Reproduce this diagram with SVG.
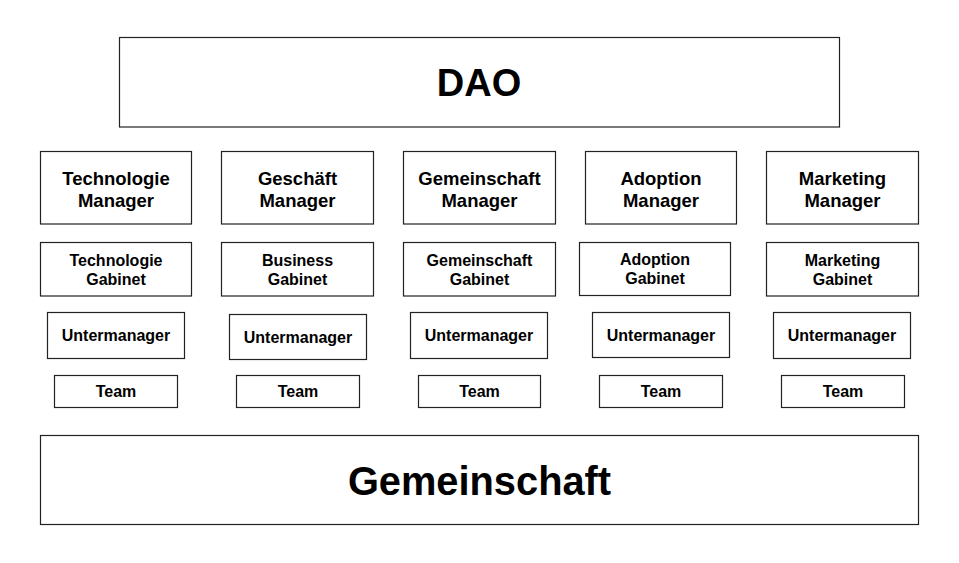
<svg xmlns="http://www.w3.org/2000/svg" width="959" height="563" viewBox="0 0 959 563">
<style>
rect{fill:#fff;stroke:#222;stroke-width:1.2}
text{font-family:"Liberation Sans",Arial,sans-serif;font-weight:bold;fill:#000;text-anchor:middle}
.xl{font-size:38px}
.m{font-size:18.5px}
.s{font-size:16px}
</style>
<rect x="0" y="0" width="959" height="563" style="stroke:none"/>
<g id="dao"><rect x="119.5" y="37.5" width="720" height="89.5"/><text class="xl" x="479" y="96">DAO</text></g>
<g id="mgr-tech"><rect x="40.5" y="151.5" width="151" height="72.5"/><text class="m" x="116" y="185">Technologie</text><text class="m" x="116" y="206.5">Manager</text></g>
<g id="mgr-gesch"><rect x="221.5" y="151.5" width="152" height="72.5"/><text class="m" x="297.5" y="185">Geschäft</text><text class="m" x="297.5" y="206.5">Manager</text></g>
<g id="mgr-gem"><rect x="403.5" y="151.5" width="152" height="72.5"/><text class="m" x="479.5" y="185">Gemeinschaft</text><text class="m" x="479.5" y="206.5">Manager</text></g>
<g id="mgr-adopt"><rect x="585.5" y="151.5" width="151" height="72.5"/><text class="m" x="661" y="185">Adoption</text><text class="m" x="661" y="206.5">Manager</text></g>
<g id="mgr-mkt"><rect x="766.5" y="151.5" width="152" height="72.5"/><text class="m" x="842.5" y="185">Marketing</text><text class="m" x="842.5" y="206.5">Manager</text></g>
<g id="gab-tech"><rect x="40.5" y="242.5" width="151" height="53.5"/><text class="s" x="116" y="266">Technologie</text><text class="s" x="116" y="285">Gabinet</text></g>
<g id="gab-bus"><rect x="221.5" y="242.5" width="152" height="53.5"/><text class="s" x="297.5" y="266">Business</text><text class="s" x="297.5" y="285">Gabinet</text></g>
<g id="gab-gem"><rect x="403.5" y="242.5" width="152" height="53.5"/><text class="s" x="479.5" y="266">Gemeinschaft</text><text class="s" x="479.5" y="285">Gabinet</text></g>
<g id="gab-adopt"><rect x="579.5" y="242.5" width="151" height="53"/><text class="s" x="655" y="265">Adoption</text><text class="s" x="655" y="284">Gabinet</text></g>
<g id="gab-mkt"><rect x="766.5" y="242.5" width="152" height="53.5"/><text class="s" x="842.5" y="266">Marketing</text><text class="s" x="842.5" y="285">Gabinet</text></g>
<g id="unter-1"><rect x="47.5" y="312.5" width="137" height="46"/><text class="s" x="116" y="341">Untermanager</text></g>
<g id="unter-2"><rect x="229.5" y="314.5" width="137" height="45"/><text class="s" x="298" y="342.5">Untermanager</text></g>
<g id="unter-3"><rect x="410.5" y="312.5" width="137" height="46"/><text class="s" x="479" y="341">Untermanager</text></g>
<g id="unter-4"><rect x="592.5" y="312.5" width="137" height="45"/><text class="s" x="661" y="340.5">Untermanager</text></g>
<g id="unter-5"><rect x="773.5" y="312.5" width="137" height="46"/><text class="s" x="842" y="341">Untermanager</text></g>
<g id="team-1"><rect x="54.5" y="375.5" width="123" height="32"/><text class="s" x="116" y="397">Team</text></g>
<g id="team-2"><rect x="236.5" y="375.5" width="123" height="32"/><text class="s" x="298" y="397">Team</text></g>
<g id="team-3"><rect x="418.5" y="375.5" width="122" height="32"/><text class="s" x="479.5" y="397">Team</text></g>
<g id="team-4"><rect x="599.5" y="375.5" width="123" height="32"/><text class="s" x="661" y="397">Team</text></g>
<g id="team-5"><rect x="781.5" y="375.5" width="123" height="32"/><text class="s" x="843" y="397">Team</text></g>
<g id="gemeinschaft"><rect x="40.5" y="435.5" width="878" height="89"/><text class="xl" x="479.5" y="495" style="font-size:39.8px">Gemeinschaft</text></g>
<g id="connectors"></g>
</svg>
